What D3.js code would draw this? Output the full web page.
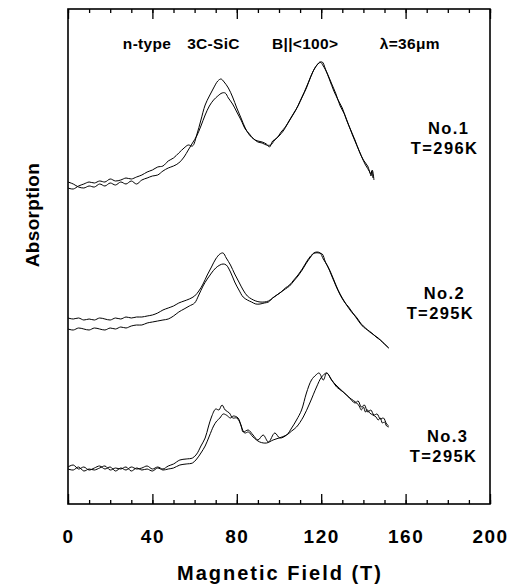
<!DOCTYPE html>
<html>
<head>
<meta charset="utf-8">
<script src="https://cdn.jsdelivr.net/npm/d3@7.9.0/dist/d3.min.js"></script>
<style>
  body { margin: 0; background: #fff; }
  svg { display: block; font-family: 'Liberation Sans', Arial, sans-serif; }
</style>
</head>
<body>
<div id="chart"></div>
<script>
// field (T), absorption (arb. units, traces stacked)
const no1a = [[0,316],[2.5,315],[5,318],[7.5,320],[10,322],[12.5,321],[15,323],[17.5,322],[20,325],[22.5,323],[25,324],[27.5,326],[30,325],[32.5,327],[35,329],[37.5,332],[40,334],[42.5,337],[45,338],[47.5,343],[50,346],[52.5,351],[55,356],[57,359],[59,358],[61,369],[63,384],[65,399],[67,408],[69,416],[71,423],[72.5,425],[74,422],[76,416],[78,407],[80,396],[82,386],[84,376],[86,369],[88,365],[90,362],[92,361],[94,359],[96,359],[98,364],[100,368],[102,373],[104,380],[106,387],[108,394],[110,403],[112,412],[114,422],[116,432],[118,439],[119.5,442],[121,438],[123,430],[125,420],[127,410],[129,398],[131,390],[133,379],[135,368],[137,358],[139,348],[141,339],[143,332],[143.6,328],[144,333],[144.5,326]];
const no1b = [[0,322],[2.5,320],[5,317],[7.5,316],[10,318],[12.5,317],[15,320],[17.5,318],[20,321],[22.5,319],[25,322],[27.5,320],[30,323],[32.5,320],[35,324],[37.5,326],[40,328],[42.5,329],[45,333],[47.5,336],[50,338],[52.5,341],[55,347],[57,354],[59,361],[61,368],[63,378],[65,389],[67,398],[69,404],[71,408],[73,411],[74.5,411],[76,406],[78,400],[80,392],[82,384],[84,375],[86,370],[88,365],[90,363],[92,362],[94,360],[95.5,357],[97,363],[99,366],[101,372],[103,377],[105,384],[107,391],[109,398],[111,407],[113,416],[115,427],[117,436],[119,441],[120.5,442],[122,435],[124,424],[126,413],[128,404],[130,396],[132,384],[134,374],[136,364],[138,353],[140,344],[142,338],[143.5,330],[144.2,334],[145,324]];

const no2a = [[0,186],[2.5,185],[5,186],[7.5,184],[10,185],[12.5,184],[15,186],[17.5,185],[20,184],[22.5,186],[25,185],[27.5,187],[30,186],[32.5,187],[35,187],[37.5,188],[40,189],[42.5,191],[45,194],[47.5,196],[50,198],[52.5,201],[55,203],[57.5,205],[60,208],[62,213],[64,220],[66,229],[68,237],[70,245],[72,250],[73.5,251],[75,246],[77,239],[79,230],[81,222],[83,214],[85,208],[87,205],[89,203],[91,202],[93,202],[95,203],[97,206],[99,209],[101,212],[103,215],[105,218],[107,223],[109,228],[111,234],[113,241],[115,247],[116.5,251],[118,252],[119.5,251],[121,245],[123,238],[125,228],[127,218],[129,209],[131,202],[133,197],[135,191],[137,186],[139,180],[141,176],[143,172],[145,169],[147,166],[149,162],[151,158],[152,156]];
const no2b = [[0,175],[2.5,174],[5,176],[7.5,175],[10,174],[12.5,176],[15,175],[17.5,174],[20,176],[22.5,175],[25,177],[27.5,176],[30,178],[32.5,179],[35,179],[37.5,181],[40,182],[42.5,183],[45,184],[47.5,185],[50,188],[52.5,192],[55,195],[57.5,198],[60,201],[62,209],[64,218],[66,225],[68,231],[70,236],[72,239],[73.5,240],[75,239],[77,232],[79,222],[81,214],[83,207],[85,204],[87,202],[89,200],[91,200],[93,201],[95,202],[97,206],[99,209],[101,212],[103,216],[105,219],[107,224],[109,229],[111,235],[113,242],[115,248],[117,251],[119,251],[120.5,250],[122,242],[124,234],[126,224],[128,214],[130,206],[132,199],[134,193],[136,188],[138,182],[140,177],[142,174],[144,171],[146,167],[148,164],[150,160],[152,156]];

const no3a = [[0,37],[2.5,39],[5,35],[7.5,37],[10,34],[12.5,36],[15,38],[17.5,35],[20,37],[22.5,33],[25,36],[27.5,34],[30,37],[32.5,35],[35,36],[37.5,38],[40,35],[42.5,37],[45,35],[47.5,38],[50,40],[53,44],[56,45],[59,46],[61,50],[63,58],[65,66],[66.5,77],[68,87],[70,95],[71.5,94],[73,99],[74.5,94],[76.5,91],[78,86],[80,86],[82,79],[83,72],[85.4,74],[87.7,69],[90,64],[92.5,69],[95,62],[98,71],[100.4,66],[103.6,69],[106,76],[108.3,84],[110.7,94],[113,111],[115.4,124],[117.5,129],[119,131],[121,124],[122.6,131],[125,124],[127.3,117],[130.4,112],[133.6,106],[136.8,101],[138,98],[139,94],[140,97],[141,92],[142,94],[143,91],[144.5,89],[146,87],[147,84],[148,86],[149,81],[150,82],[151,78],[152,77]];
const no3b = [[0,35],[2.5,34],[5,37],[7.5,33],[10,35],[12.5,34],[15,36],[17.5,38],[20,34],[22.5,36],[25,35],[27.5,37],[30,33],[32.5,36],[35,34],[37.5,35],[40,33],[42.5,36],[45,34],[47.5,35],[50,36],[53,39],[56,40],[59,41],[61,45],[63,51],[65,58],[67,68],[69,78],[70.5,83],[72,86],[73.5,90],[75,89],[77,86],[78.3,88],[80.6,86],[82.2,77],[83.8,71],[85.5,72],[87.7,67],[90.9,62],[94.1,61],[97.2,64],[100,66],[103.6,69],[106,73],[108.3,77],[111.5,87],[114.6,101],[117.8,117],[120.2,127],[122.6,131],[124.9,124],[127,119],[130,113],[133,107],[136,101],[137.5,103],[139,97],[140.5,99],[142,92],[143.5,94],[145,89],[146.5,90],[148,85],[149.5,86],[151,80],[152,78]];

const traces = [no1a, no1b, no2a, no2b, no3a, no3b];

const xTicks = [0, 40, 80, 120, 160, 200];
const xMinor = d3.range(0, 201, 10);

const header = ['n-type', '3C-SiC', 'B||<100>', 'λ=36μm'];
const headerAt = [26, 56.5, 96.7, 147.8];   // field value of each piece's left edge

const samples = ['No.1', 'No.2', 'No.3'];
const temps = ['T=296K', 'T=295K', 'T=295K'];
const labelLevel = [366, 201, 58];   // absorption level of label centre
const labelField = [178.5, 176.5, 178];

const width = 511, height = 588;
const margin = { top: 9, right: 21, bottom: 84, left: 68 };

const x = d3.scaleLinear().domain([0, 200]).range([margin.left, width - margin.right]);
const y = d3.scaleLinear().domain([0, 495]).range([height - margin.bottom, margin.top]);

const svg = d3.select('#chart').append('svg')
  .attr('width', width)
  .attr('height', height);

// minor ticks, bottom and top
svg.append('g')
  .attr('transform', `translate(0,${y(0)})`)
  .call(d3.axisBottom(x).tickValues(xMinor).tickSizeInner(-4).tickSizeOuter(0).tickFormat(''))
  .call((g) => g.select('.domain').remove());
svg.append('g')
  .attr('transform', `translate(0,${y(495)})`)
  .call(d3.axisTop(x).tickValues(xMinor).tickSizeInner(-4).tickSizeOuter(0).tickFormat(''))
  .call((g) => g.select('.domain').remove());

// major ticks with labels
const xAxis = svg.append('g')
  .attr('transform', `translate(0,${y(0)})`)
  .call(d3.axisBottom(x).tickValues(xTicks).tickSizeInner(-10).tickSizeOuter(0).tickPadding(26));
xAxis.select('.domain').remove();
xAxis.selectAll('text')
  .attr('font-size', 19)
  .attr('font-weight', 'bold')
  .attr('letter-spacing', '1.5px')
  .attr('font-family', "'Liberation Sans', Arial, sans-serif")
  .attr('fill', '#000');

svg.append('g')
  .attr('transform', `translate(0,${y(495)})`)
  .call(d3.axisTop(x).tickValues(xTicks).tickSizeInner(-10).tickSizeOuter(0).tickFormat(''))
  .call((g) => g.select('.domain').remove());

svg.selectAll('.tick line').attr('stroke', '#000').attr('stroke-width', 1.3);

// frame
svg.append('rect')
  .attr('x', x(0))
  .attr('y', y(495))
  .attr('width', x(200) - x(0))
  .attr('height', y(0) - y(495))
  .attr('fill', 'none')
  .attr('stroke', '#000')
  .attr('stroke-width', 1.6);

// curves
const line = d3.line()
  .x((d) => x(d[0]))
  .y((d) => y(d[1]))
  .curve(d3.curveCatmullRom.alpha(0.5));

svg.append('g')
  .selectAll('path')
  .data(traces)
  .join('path')
  .attr('d', line)
  .attr('fill', 'none')
  .attr('stroke', '#000')
  .attr('stroke-width', 1);

// header text
svg.append('g')
  .attr('font-size', 15.5)
  .attr('font-weight', 'bold')
  .attr('letter-spacing', '0.3px')
  .selectAll('text')
  .data(header)
  .join('text')
  .attr('x', (d, i) => x(headerAt[i]))
  .attr('y', 49)
  .text((d) => d);

// sample labels
const lab = svg.append('g')
  .attr('font-size', 16.5)
  .attr('font-weight', 'bold')
  .attr('letter-spacing', '1.4px')
  .attr('text-anchor', 'middle');
samples.forEach((s, i) => {
  lab.append('text')
    .attr('x', x(labelField[i]) + 4)
    .attr('y', y(labelLevel[i]) - 4)
    .text(s);
  lab.append('text')
    .attr('x', x(labelField[i]))
    .attr('y', y(labelLevel[i]) + 16)
    .text(temps[i]);
});

// axis titles
svg.append('text')
  .attr('x', 280)
  .attr('y', 580)
  .attr('text-anchor', 'middle')
  .attr('font-size', 20)
  .attr('font-weight', 'bold')
  .attr('letter-spacing', '2px')
  .text('Magnetic Field (T)');

svg.append('text')
  .attr('transform', 'translate(39,215) rotate(-90)')
  .attr('text-anchor', 'middle')
  .attr('font-size', 19)
  .attr('font-weight', 'bold')
  .attr('letter-spacing', '0.3px')
  .text('Absorption');
</script>
</body>
</html>
